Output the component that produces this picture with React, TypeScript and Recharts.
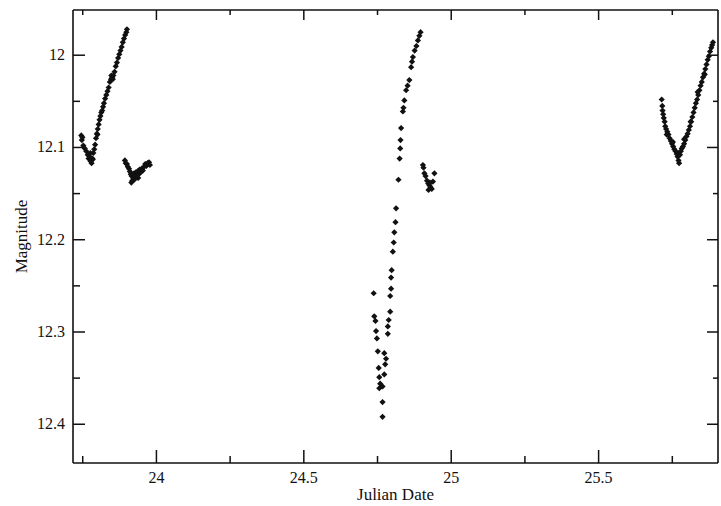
import React from 'react';
import { ScatterChart, Scatter, XAxis, YAxis } from 'recharts';

// first night: dip and rise, then the small clump after it
const night1Jd = [
  23.745, 23.747, 23.749, 23.752, 23.757, 23.762, 23.767, 23.770, 23.774, 23.777, 23.780, 23.783,
  23.786, 23.789, 23.792, 23.795, 23.798, 23.801, 23.804, 23.807, 23.810, 23.813, 23.816, 23.819,
  23.822, 23.826, 23.830, 23.834, 23.838, 23.842, 23.846, 23.850, 23.854, 23.858, 23.862, 23.866,
  23.870, 23.874, 23.878, 23.882, 23.886, 23.890, 23.894, 23.898, 23.900, 23.776, 23.784, 23.800,
  23.847, 23.852,
];
const night1Mag = [
  12.087, 12.092, 12.089, 12.098, 12.101, 12.104, 12.108, 12.112, 12.110, 12.115, 12.117, 12.112,
  12.106, 12.102, 12.097, 12.090, 12.085, 12.080, 12.075, 12.070, 12.066, 12.062, 12.060, 12.056,
  12.052, 12.047, 12.043, 12.039, 12.035, 12.029, 12.026, 12.024, 12.022, 12.018, 12.012, 12.008,
  12.003, 11.999, 11.995, 11.991, 11.986, 11.982, 11.978, 11.975, 11.972, 12.106, 12.113, 12.086,
  12.022, 12.026,
];
const clump1Jd = [
  23.893, 23.896, 23.900, 23.903, 23.907, 23.910, 23.913, 23.916, 23.918, 23.921, 23.924, 23.927,
  23.930, 23.933, 23.936, 23.940, 23.943, 23.946, 23.950, 23.954, 23.958, 23.962, 23.966, 23.970,
  23.975, 23.978, 23.915, 23.925, 23.938,
];
const clump1Mag = [
  12.114, 12.117, 12.118, 12.121, 12.123, 12.126, 12.129, 12.131, 12.136, 12.133, 12.128, 12.130,
  12.127, 12.131, 12.126, 12.129, 12.124, 12.127, 12.123, 12.125, 12.121, 12.118, 12.120, 12.117,
  12.116, 12.119, 12.138, 12.135, 12.133,
];

// second night: deep minimum and steep rise
const night2Jd = [
  24.737, 24.739, 24.743, 24.745, 24.748, 24.751, 24.754, 24.756, 24.759, 24.756, 24.767, 24.767,
  24.767, 24.773, 24.773, 24.779, 24.776, 24.785, 24.785, 24.788, 24.793, 24.793, 24.796, 24.796,
  24.798, 24.802, 24.805, 24.807, 24.811, 24.813, 24.821, 24.825, 24.827, 24.828, 24.830, 24.836,
  24.838, 24.841, 24.847, 24.852, 24.858, 24.864, 24.867, 24.870, 24.876, 24.882, 24.887, 24.892,
  24.896,
];
const night2Mag = [
  12.258, 12.283, 12.288, 12.299, 12.307, 12.321, 12.339, 12.349, 12.356, 12.361, 12.359, 12.376,
  12.392, 12.346, 12.323, 12.329, 12.335, 12.302, 12.294, 12.287, 12.278, 12.261, 12.253, 12.241,
  12.233, 12.213, 12.203, 12.192, 12.181, 12.166, 12.135, 12.112, 12.101, 12.092, 12.079, 12.061,
  12.057, 12.049, 12.038, 12.033, 12.027, 12.013, 12.007, 12.002, 11.995, 11.990, 11.984, 11.979,
  11.975,
];
const clump2Jd = [
  24.904, 24.906, 24.909, 24.913, 24.918, 24.922, 24.926, 24.923, 24.930, 24.934, 24.938, 24.943,
  24.928,
];
const clump2Mag = [
  12.119, 12.122, 12.128, 12.131, 12.136, 12.139, 12.141, 12.146, 12.143, 12.145, 12.137, 12.128,
  12.138,
];

// third night
const night3Jd = [
  25.714, 25.716, 25.717, 25.719, 25.721, 25.724, 25.726, 25.729, 25.733, 25.737, 25.741, 25.745,
  25.749, 25.753, 25.757, 25.761, 25.765, 25.768, 25.771, 25.773, 25.770, 25.776, 25.779, 25.782,
  25.786, 25.790, 25.794, 25.798, 25.802, 25.806, 25.810, 25.814, 25.818, 25.822, 25.826, 25.830,
  25.834, 25.838, 25.842, 25.846, 25.850, 25.854, 25.858, 25.862, 25.866, 25.870, 25.874, 25.878,
  25.882, 25.885, 25.888, 25.731, 25.752, 25.790, 25.812, 25.836, 25.860,
];
const night3Mag = [
  12.048, 12.055, 12.060, 12.064, 12.068, 12.072, 12.077, 12.080, 12.083, 12.086, 12.090, 12.093,
  12.096, 12.099, 12.102, 12.104, 12.107, 12.110, 12.114, 12.117, 12.106, 12.108, 12.104, 12.101,
  12.099, 12.096, 12.092, 12.088, 12.085, 12.081, 12.077, 12.072, 12.067, 12.062, 12.057, 12.052,
  12.048, 12.043, 12.038, 12.033, 12.029, 12.024, 12.020, 12.015, 12.010, 12.005, 12.001, 11.996,
  11.992, 11.989, 11.986, 12.086, 12.094, 12.091, 12.072, 12.040, 12.021,
];

const xTicks = [23.75, 24, 24.25, 24.5, 24.75, 25, 25.25, 25.5, 25.75];
const xLabelTicks = [24, 24.5, 25, 25.5];
const yTicks = [12, 12.05, 12.1, 12.15, 12.2, 12.25, 12.3, 12.35, 12.4];
const yLabelTicks = [12, 12.1, 12.2, 12.3, 12.4];

const xDomain = [23.717, 25.905];
const yDomain = [11.951, 12.442];

const FONT = '"Liberation Serif", "Times New Roman", serif';
const INK = '#111';

const zip = (jd: number[], mag: number[]) => jd.map((x, i) => ({ jd: x, mag: mag[i] }));

const points = [
  ...zip(night1Jd, night1Mag),
  ...zip(clump1Jd, clump1Mag),
  ...zip(night2Jd, night2Mag),
  ...zip(clump2Jd, clump2Mag),
  ...zip(night3Jd, night3Mag),
];

const has = (list: number[], v: number) => list.some((t) => Math.abs(t - v) < 1e-9);
const textStyle = { fontFamily: FONT, fontSize: 16, fill: INK };
const titleStyle = { fontFamily: FONT, fontSize: 17, fill: INK };

function BottomTick({ x, y, payload }: any) {
  const major = has(xLabelTicks, payload.value);
  return (
    <g>
      <line x1={x} x2={x} y1={y} y2={y - (major ? 13 : 7)} stroke={INK} strokeWidth={1.5} />
      {major && (
        <text x={x} y={y + 20} textAnchor="middle" style={textStyle}>
          {payload.value}
        </text>
      )}
    </g>
  );
}

function TopTick({ x, y, payload }: any) {
  const major = has(xLabelTicks, payload.value);
  return <line x1={x} x2={x} y1={y} y2={y + (major ? 10 : 5)} stroke={INK} strokeWidth={1.5} />;
}

function LeftTick({ x, y, payload }: any) {
  const major = has(yLabelTicks, payload.value);
  return (
    <g>
      <line x1={x} x2={x + (major ? 12 : 7)} y1={y} y2={y} stroke={INK} strokeWidth={1.5} />
      {major && (
        <text x={x - 8} y={y + 5} textAnchor="end" style={textStyle}>
          {payload.value}
        </text>
      )}
    </g>
  );
}

function RightTick({ x, y, payload }: any) {
  const major = has(yLabelTicks, payload.value);
  return <line x1={x} x2={x - (major ? 11 : 5)} y1={y} y2={y} stroke={INK} strokeWidth={1.5} />;
}

function Marker({ cx, cy }: any) {
  const r = 3.1;
  return <path d={`M${cx},${cy - r}L${cx + r},${cy}L${cx},${cy + r}L${cx - r},${cy}Z`} fill={INK} />;
}

const Nothing = () => <g />;

export default function App() {
  const axisLine = { stroke: INK, strokeWidth: 1.6 };
  return (
    <div style={{ position: 'absolute', left: 0, top: 0, background: '#fff' }}>
      <ScatterChart width={721} height={506} margin={{ top: 9, right: 2, bottom: 0, left: 10 }}>
        <XAxis
          dataKey="jd"
          type="number"
          domain={xDomain}
          allowDataOverflow
          ticks={xTicks}
          interval={0}
          height={43}
          tickSize={0}
          tickMargin={0}
          tickLine={false}
          axisLine={axisLine}
          tick={BottomTick}
          label={{
            value: 'Julian Date',
            position: 'insideBottom',
            offset: 6,
            style: titleStyle,
          }}
        />
        <XAxis
          xAxisId="top"
          dataKey="jd"
          orientation="top"
          type="number"
          domain={xDomain}
          allowDataOverflow
          ticks={xTicks}
          interval={0}
          height={1}
          tickSize={0}
          tickMargin={0}
          tickLine={false}
          axisLine={axisLine}
          tick={TopTick}
        />
        <YAxis
          dataKey="mag"
          type="number"
          reversed
          domain={yDomain}
          allowDataOverflow
          ticks={yTicks}
          interval={0}
          width={63}
          tickSize={0}
          tickMargin={0}
          tickLine={false}
          axisLine={axisLine}
          tick={LeftTick}
          label={{
            value: 'Magnitude',
            content: ({ viewBox }: any) => {
              const cx = viewBox.x + 11;
              const cy = viewBox.y + viewBox.height / 2;
              return (
                <text
                  x={cx}
                  y={cy}
                  transform={`rotate(-90 ${cx} ${cy})`}
                  textAnchor="middle"
                  dominantBaseline="central"
                  style={titleStyle}
                >
                  Magnitude
                </text>
              );
            },
          }}
        />
        <YAxis
          yAxisId="right"
          dataKey="mag"
          orientation="right"
          type="number"
          reversed
          domain={yDomain}
          allowDataOverflow
          ticks={yTicks}
          interval={0}
          width={1}
          tickSize={0}
          tickMargin={0}
          tickLine={false}
          axisLine={axisLine}
          tick={RightTick}
        />
        <Scatter data={points} shape={Marker} isAnimationActive={false} />
        {/* invisible copy so the top and right frame axes get drawn */}
        <Scatter data={points} xAxisId="top" yAxisId="right" shape={Nothing} isAnimationActive={false} />
      </ScatterChart>
    </div>
  );
}
